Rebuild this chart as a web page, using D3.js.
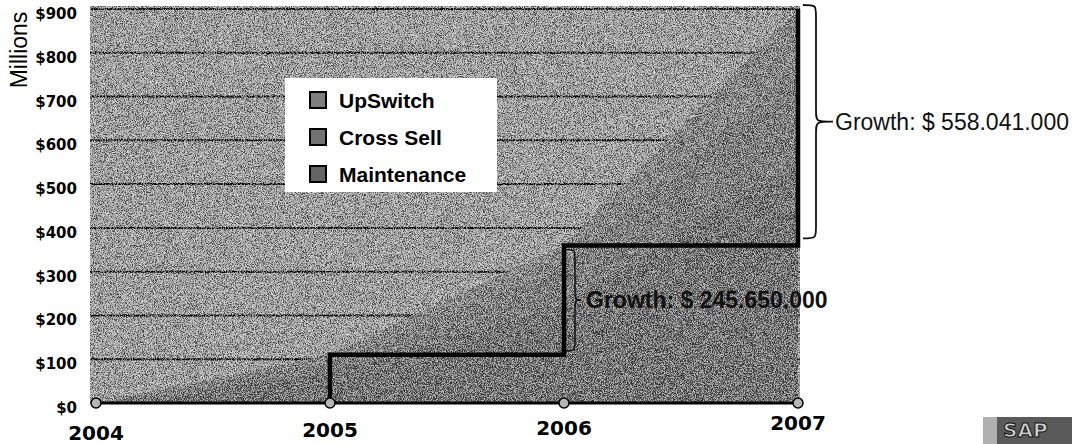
<!DOCTYPE html>
<html>
<head>
<meta charset="utf-8">
<script src="https://cdn.jsdelivr.net/npm/d3@7"></script>
<style>
  html, body { margin: 0; padding: 0; background: #fff; }
  svg { display: block; }
</style>
</head>
<body>
<svg id="chart" width="1072" height="444"></svg>
<script>
// values in $ millions
const years = [2004, 2005, 2006, 2007];
const yTicks = [0, 100, 200, 300, 400, 500, 600, 700, 800, 900];
const maintenance = [0, 70, 225, 555];
const crossSell = [0, 25, 85, 215];
const upSwitch = [0, 15, 50, 130];
// black step line (total) for 2005..2007
const stepYears = [2005, 2006, 2007];
const stepTotals = [110, 360, 900];
const legendNames = ['UpSwitch', 'Cross Sell', 'Maintenance'];
const growthLabels = ['Growth: $ 245.650.000', 'Growth: $ 558.041.000'];

const colors = { 'Maintenance': '#646464', 'Cross Sell': '#727272', 'UpSwitch': '#7e7e7e' };

let svg = d3.select('#chart');

let x = d3.scalePoint().domain(years).range([96, 798]);
let y = d3.scaleLinear().domain([0, 900]).range([403, 9]);

// grain filters to mimic the halftone scan
let defs = svg.append('defs');
let f1 = defs.append('filter').attr('id', 'grainDark')
  .attr('x', 0).attr('y', 0).attr('width', '100%').attr('height', '100%');
f1.append('feTurbulence').attr('type', 'fractalNoise').attr('baseFrequency', 1.1)
  .attr('numOctaves', 2).attr('seed', 4);
f1.append('feColorMatrix').attr('type', 'matrix')
  .attr('values', '0 0 0 0 0  0 0 0 0 0  0 0 0 0 0  7 0 0 0 -3.2');
let f2 = defs.append('filter').attr('id', 'grainLight')
  .attr('x', 0).attr('y', 0).attr('width', '100%').attr('height', '100%');
f2.append('feTurbulence').attr('type', 'fractalNoise').attr('baseFrequency', 1.1)
  .attr('numOctaves', 2).attr('seed', 9);
f2.append('feColorMatrix').attr('type', 'matrix')
  .attr('values', '0 0 0 0 1  0 0 0 0 1  0 0 0 0 1  0 7 0 0 -3.2');

// plot area background
svg.append('rect')
  .attr('x', 90).attr('y', 6)
  .attr('width', 800 - 90).attr('height', y(0) - 6)
  .attr('fill', '#a2a2a2');

// gridlines
svg.append('g').selectAll('line')
  .data(yTicks.filter(d => d > 0))
  .join('line')
  .attr('x1', 90).attr('x2', 800)
  .attr('y1', d => y(d)).attr('y2', d => y(d))
  .attr('stroke', '#000').attr('stroke-width', 2);

// stacked areas
let table = years.map((yr, i) => ({
  year: yr,
  'Maintenance': maintenance[i],
  'Cross Sell': crossSell[i],
  'UpSwitch': upSwitch[i]
}));
let stack = d3.stack().keys(['Maintenance', 'Cross Sell', 'UpSwitch']);
let layers = stack(table);

let area = d3.area()
  .x(d => x(d.data.year))
  .y0(d => y(d[0]))
  .y1(d => y(d[1]));

svg.append('g').selectAll('path')
  .data(layers)
  .join('path')
  .attr('d', area)
  .attr('fill', d => colors[d.key]);

// halftone grain over the plot
['grainDark', 'grainLight'].forEach(id => {
  svg.append('rect')
    .attr('x', 90).attr('y', 6)
    .attr('width', 800 - 90).attr('height', y(0) - 6)
    .attr('filter', `url(#${id})`)
    .attr('opacity', 0.55);
});

// x baseline
svg.append('line')
  .attr('x1', 92).attr('x2', 800)
  .attr('y1', y(0)).attr('y2', y(0))
  .attr('stroke', '#000').attr('stroke-width', 3);

// step line of totals
let stepPts = [[stepYears[0], 0]].concat(stepYears.map((yr, i) => [yr, stepTotals[i]]));
let stepLine = d3.line()
  .x(d => x(d[0]))
  .y(d => y(d[1]))
  .curve(d3.curveStepAfter);
svg.append('path')
  .attr('d', stepLine(stepPts))
  .attr('fill', 'none')
  .attr('stroke', '#000')
  .attr('stroke-width', 4.5)
  .attr('stroke-linejoin', 'miter');

// markers on the baseline
svg.append('g').selectAll('circle')
  .data(years)
  .join('circle')
  .attr('cx', d => x(d))
  .attr('cy', y(0))
  .attr('r', 5)
  .attr('fill', '#b5b5b5')
  .attr('stroke', '#000')
  .attr('stroke-width', 1.5);

// y tick labels
svg.append('g').selectAll('text')
  .data(yTicks)
  .join('text')
  .attr('x', 77)
  .attr('y', d => y(d) + 10)
  .attr('text-anchor', 'end')
  .style('font-family', 'DejaVu Sans, sans-serif')
  .style('font-weight', 'bold')
  .style('font-size', '15px')
  .text(d => '$' + d);

// y axis title
svg.append('text')
  .attr('transform', 'translate(27,50) rotate(-90)')
  .attr('text-anchor', 'middle')
  .style('font-family', 'Liberation Sans, Arial, sans-serif')
  .style('font-size', '23px')
  .text('Millions');

// x labels (the scan is slightly skewed)
const labelDrop = [440, 437, 435, 430];
svg.append('g').selectAll('text')
  .data(years)
  .join('text')
  .attr('x', d => x(d))
  .attr('y', (d, i) => labelDrop[i])
  .attr('text-anchor', 'middle')
  .style('font-family', 'DejaVu Sans, sans-serif')
  .style('font-weight', 'bold')
  .style('font-size', '20px')
  .text(d => d);

// legend
let legend = svg.append('g');
legend.append('rect')
  .attr('x', 285).attr('y', 78)
  .attr('width', 212).attr('height', 114)
  .attr('fill', '#fff');
legendNames.forEach((name, i) => {
  let by = 108 + i * 37;
  legend.append('rect')
    .attr('x', 310).attr('y', by - 16)
    .attr('width', 16).attr('height', 16)
    .attr('fill', colors[name])
    .attr('stroke', '#000').attr('stroke-width', 2);
  legend.append('text')
    .attr('x', 339).attr('y', by)
    .style('font-family', 'Liberation Sans, Arial, sans-serif')
    .style('font-weight', 'bold')
    .style('font-size', '21px')
    .text(name);
});

// curly brace pointing right
function brace(x0, y0, y1, w, spine) {
  let xs = x0 + spine, xt = x0 + w, mid = (y0 + y1) / 2, r = Math.min(12, (y1 - y0) / 6);
  return `M${x0},${y0} C${xs},${y0} ${xs},${y0} ${xs},${y0 + r}` +
    ` L${xs},${mid - r} C${xs},${mid} ${xs},${mid} ${xt},${mid}` +
    ` C${xs},${mid} ${xs},${mid} ${xs},${mid + r}` +
    ` L${xs},${y1 - r} C${xs},${y1} ${xs},${y1} ${x0},${y1}`;
}

// growth 2005 -> 2006
let b1y0 = y(stepTotals[1]) + 4, b1y1 = y(stepTotals[0]) - 4;
svg.append('path')
  .attr('d', brace(x(2006) + 2, b1y0, b1y1, 15, 9))
  .attr('fill', 'none').attr('stroke', '#111').attr('stroke-width', 1.5);
svg.append('text')
  .attr('x', x(2006) + 22).attr('y', (b1y0 + b1y1) / 2 + 8)
  .style('font-family', 'Liberation Sans, Arial, sans-serif')
  .style('font-size', '23px')
  .style('font-weight', 'bold')
  .attr('fill', '#111')
  .text(growthLabels[0]);

// growth 2006 -> 2007
let b2y0 = 5, b2y1 = y(stepTotals[1]) - 7;
svg.append('path')
  .attr('d', brace(x(2007) + 5, b2y0, b2y1, 30, 13))
  .attr('fill', 'none').attr('stroke', '#111').attr('stroke-width', 1.8);
svg.append('text')
  .attr('x', x(2007) + 37).attr('y', (b2y0 + b2y1) / 2 + 8)
  .style('font-family', 'Liberation Sans, Arial, sans-serif')
  .style('font-size', '23px')
  .attr('fill', '#111')
  .text(growthLabels[1]);

// SAP logo corner
svg.append('rect')
  .attr('x', 983).attr('y', 417).attr('width', 89).attr('height', 27)
  .attr('fill', '#5a5a5a');
svg.append('rect')
  .attr('x', 983).attr('y', 417).attr('width', 14).attr('height', 27)
  .attr('fill', '#b0b0b0');
svg.append('text')
  .attr('x', 1003).attr('y', 437)
  .style('font-family', 'DejaVu Sans, sans-serif')
  .style('font-weight', 'bold')
  .style('font-size', '20px')
  .attr('fill', '#cfcfcf')
  .attr('stroke', '#111').attr('stroke-width', 1)
  .text('SAP');
</script>
</body>
</html>
